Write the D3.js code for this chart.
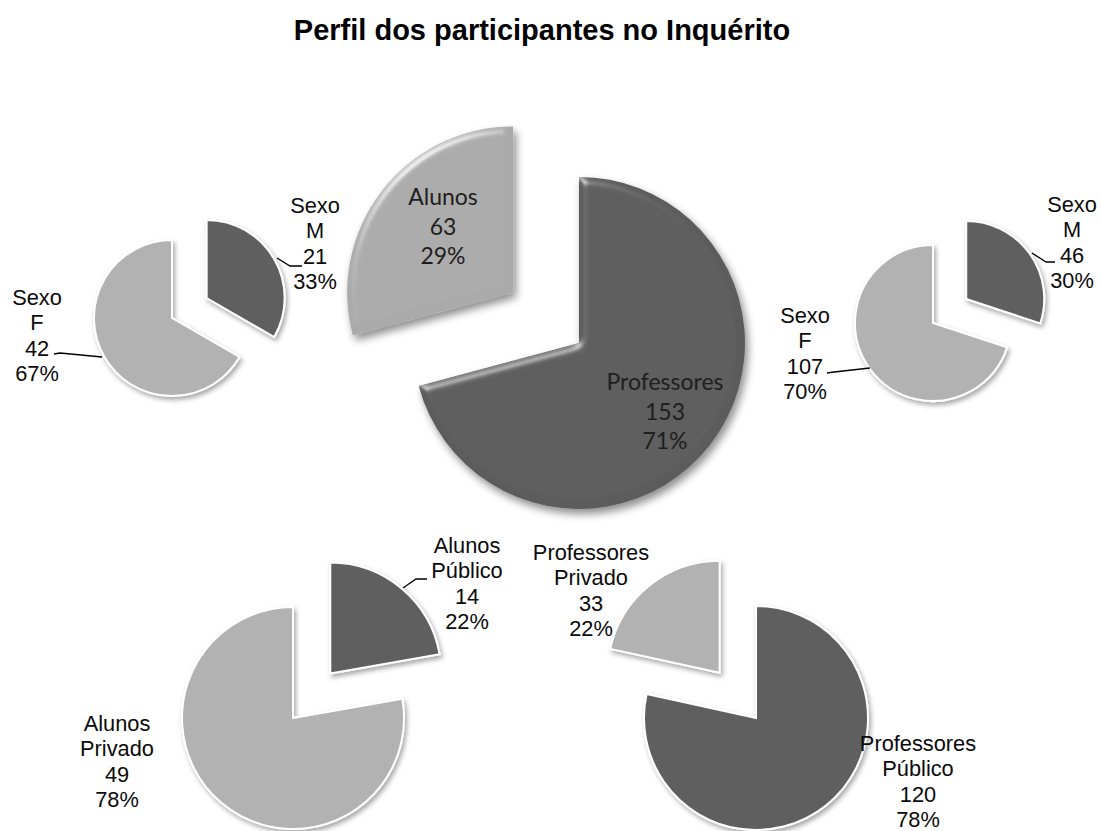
<!DOCTYPE html>
<html>
<head>
<meta charset="utf-8">
<script src="https://cdn.jsdelivr.net/npm/d3@7"></script>
<style>
  html, body { margin: 0; padding: 0; background: #fff; }
  svg { display: block; }
</style>
</head>
<body>
<svg id="chart" width="1101" height="831"></svg>
<script>
// ---------- DATA ----------
const chartTitle = "Perfil dos participantes no Inquérito";

const totalCategories = ["Professores", "Alunos"];
const totalValues = [153, 63];

const alunosSexoCategories = [["Sexo", "M"], ["Sexo", "F"]];
const alunosSexoValues = [21, 42];

const profSexoCategories = [["Sexo", "M"], ["Sexo", "F"]];
const profSexoValues = [46, 107];

const alunosEscolaCategories = [["Alunos", "Público"], ["Alunos", "Privado"]];
const alunosEscolaValues = [14, 49];

const profEscolaCategories = [["Professores", "Público"], ["Professores", "Privado"]];
const profEscolaValues = [120, 33];

// ---------- LAYOUT ----------
const DARK = "#5f5f5f", LIGHT = "#b2b2b2";
const pies = [
  { cats: totalCategories.map(c => [c]), vals: totalValues, cx: 579, cy: 343, r: 166,
    colors: ["#5c5c5c", "#aaaaaa"], explode: [0, 83], big: true,
    labels: [ { x: 665, y: 390, anchor: "middle" }, { x: 443, y: 205, anchor: "middle" } ] },
  { cats: alunosSexoCategories, vals: alunosSexoValues, cx: 172, cy: 318, r: 78,
    colors: [DARK, LIGHT], explode: [40, 0],
    labels: [ { x: 315, y: 213, anchor: "middle", leader: [[277, 258], [290, 266], [302, 266]] },
              { x: 37, y: 305, anchor: "middle", leader: [[54, 354], [60, 353], [102, 357]] } ] },
  { cats: profSexoCategories, vals: profSexoValues, cx: 933, cy: 323, r: 78,
    colors: [DARK, LIGHT], explode: [41, 0],
    labels: [ { x: 1072, y: 212, anchor: "middle", leader: [[1032, 253], [1046, 262], [1055, 262]] },
              { x: 805, y: 323, anchor: "middle", leader: [[827, 373], [834, 372], [870, 368]] } ] },
  { cats: alunosEscolaCategories, vals: alunosEscolaValues, cx: 293, cy: 718, r: 111,
    colors: [DARK, LIGHT], explode: [58, 0],
    labels: [ { x: 467, y: 553, anchor: "middle", leader: [[403, 588], [416, 579], [427, 579]] },
              { x: 117, y: 731, anchor: "middle" } ] },
  { cats: profEscolaCategories, vals: profEscolaValues, cx: 756, cy: 718, r: 112,
    colors: [DARK, LIGHT], explode: [0, 58],
    labels: [ { x: 918, y: 751, anchor: "middle" },
              { x: 591, y: 560, anchor: "middle" } ] }
];

// ---------- DRAW ----------
const svg = d3.select("#chart");
const defs = svg.append("defs");

// drop shadow for small pies
const sh = defs.append("filter").attr("id", "shadow")
  .attr("x", "-20%").attr("y", "-20%").attr("width", "150%").attr("height", "150%");
sh.append("feDropShadow").attr("dx", 2).attr("dy", 3).attr("stdDeviation", 2.5)
  .attr("flood-color", "#000").attr("flood-opacity", 0.35);

// bevel + shadow for big pie
const bv = defs.append("filter").attr("id", "bevel")
  .attr("x", "-20%").attr("y", "-20%").attr("width", "150%").attr("height", "150%");
bv.append("feGaussianBlur").attr("in", "SourceAlpha").attr("stdDeviation", 4).attr("result", "blur");
const spec = bv.append("feSpecularLighting").attr("in", "blur").attr("surfaceScale", 4)
  .attr("specularConstant", 0.9).attr("specularExponent", 40)
  .attr("lighting-color", "#ffffff").attr("result", "spec");
spec.append("feDistantLight").attr("azimuth", 235).attr("elevation", 40);
bv.append("feComposite").attr("in", "spec").attr("in2", "SourceAlpha").attr("operator", "in").attr("result", "specOut");
bv.append("feComposite").attr("in", "SourceGraphic").attr("in2", "specOut")
  .attr("operator", "arithmetic").attr("k1", 0).attr("k2", 1).attr("k3", 0.5).attr("k4", 0).attr("result", "lit");
bv.append("feOffset").attr("in", "SourceAlpha").attr("dx", 3).attr("dy", 5).attr("result", "off");
bv.append("feGaussianBlur").attr("in", "off").attr("stdDeviation", 4).attr("result", "offBlur");
bv.append("feComponentTransfer").attr("in", "offBlur").attr("result", "shadowA")
  .append("feFuncA").attr("type", "linear").attr("slope", 0.45);
const mg = bv.append("feMerge");
mg.append("feMergeNode").attr("in", "shadowA");
mg.append("feMergeNode").attr("in", "lit");

svg.append("text")
  .attr("x", 542).attr("y", 40)
  .attr("text-anchor", "middle")
  .attr("font-family", "'Liberation Sans', Arial, sans-serif")
  .attr("font-weight", "bold")
  .attr("font-size", 29)
  .attr("fill", "#000")
  .text(chartTitle);

const pieGen = d3.pie().sort(null).value(d => d);
const pct = d3.format(".0%");

pies.forEach(p => {
  const total = d3.sum(p.vals);
  const arcs = pieGen(p.vals);
  const arcGen = d3.arc().innerRadius(0).outerRadius(p.r);
  const g = svg.append("g").attr("transform", `translate(${p.cx},${p.cy})`);

  arcs.forEach((a, i) => {
    const mid = (a.startAngle + a.endAngle) / 2;
    const off = p.explode[i];
    const dx = Math.sin(mid) * off, dy = -Math.cos(mid) * off;
    g.append("path")
      .attr("transform", `translate(${dx},${dy})`)
      .attr("d", arcGen(a))
      .attr("fill", p.colors[i])
      .attr("stroke", p.big ? "none" : "#ffffff")
      .attr("stroke-width", p.big ? 0 : 2)
      .attr("filter", p.big ? "url(#bevel)" : "url(#shadow)");
  });

  // labels
  arcs.forEach((a, i) => {
    const L = p.labels[i];
    const lines = p.cats[i].concat([String(p.vals[i]), pct(p.vals[i] / total)]);
    const lh = p.big ? 29.5 : 25.4;
    const t = svg.append("text")
      .attr("text-anchor", L.anchor)
      .attr("font-family", p.big ? "Lato, 'Open Sans', sans-serif" : "'Liberation Sans', Arial, sans-serif")
      .attr("font-size", p.big ? 23 : 21.8)
      .attr("fill", p.big ? "#1e1e1e" : "#0a0a0a");
    lines.forEach((ln, k) => {
      t.append("tspan").attr("x", L.x).attr("y", L.y + k * lh).text(ln);
    });
    if (L.leader) {
      svg.append("path")
        .attr("d", d3.line()(L.leader))
        .attr("fill", "none")
        .attr("stroke", "#000")
        .attr("stroke-width", 1.3);
    }
  });
});
</script>
</body>
</html>
